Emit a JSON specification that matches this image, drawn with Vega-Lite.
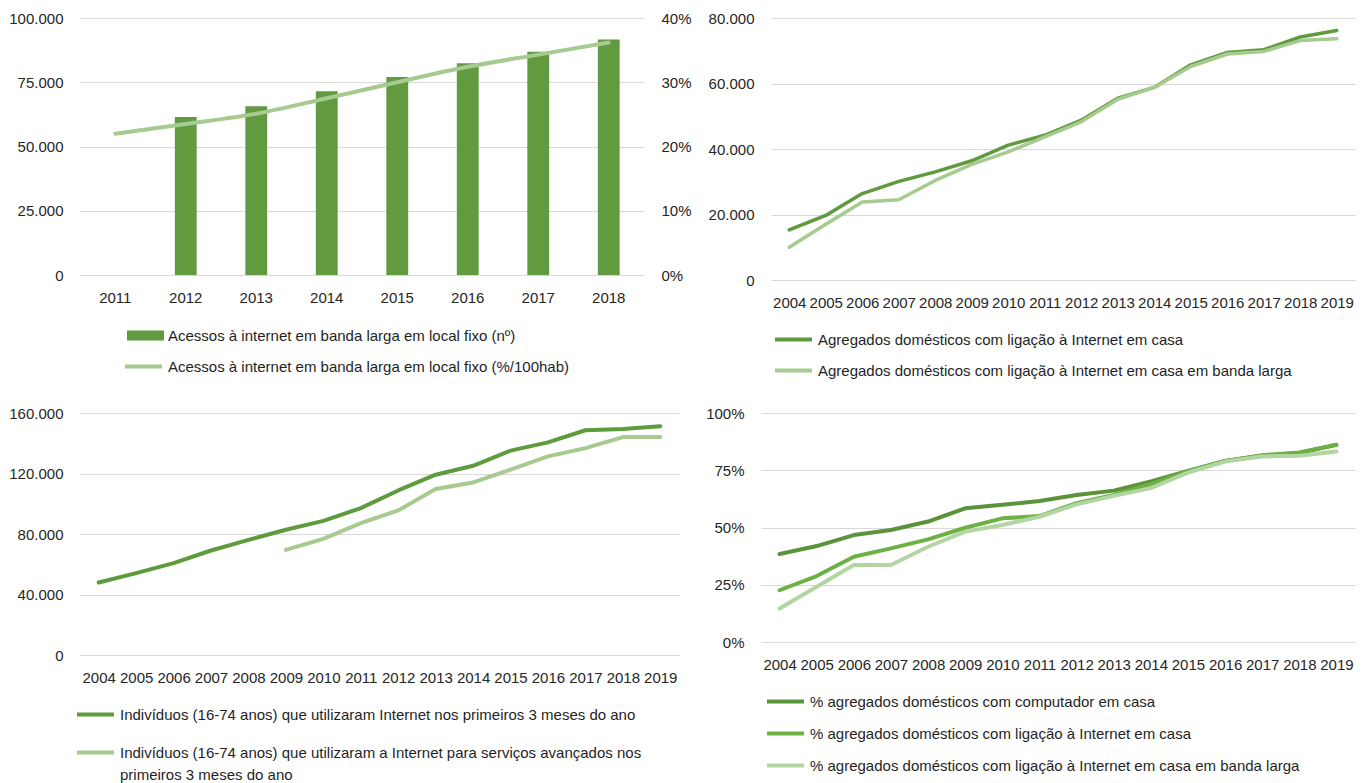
{
  "$schema": "https://vega.github.io/schema/vega-lite/v6.json",
  "autosize": {"type": "pad"},
  "padding": {"left": 8, "top": 11, "right": 5, "bottom": 5},
  "background": "white",
  "datasets": {
    "p1": [
      {"ano": "2012", "serie": "Acessos à internet em banda larga em local fixo (nº)", "valor": 61500},
      {"ano": "2013", "serie": "Acessos à internet em banda larga em local fixo (nº)", "valor": 65700},
      {"ano": "2014", "serie": "Acessos à internet em banda larga em local fixo (nº)", "valor": 71500},
      {"ano": "2015", "serie": "Acessos à internet em banda larga em local fixo (nº)", "valor": 77000},
      {"ano": "2016", "serie": "Acessos à internet em banda larga em local fixo (nº)", "valor": 82400},
      {"ano": "2017", "serie": "Acessos à internet em banda larga em local fixo (nº)", "valor": 86900},
      {"ano": "2018", "serie": "Acessos à internet em banda larga em local fixo (nº)", "valor": 91600},
      {"ano": "2011", "serie": "Acessos à internet em banda larga em local fixo (%/100hab)", "valor": 0.220},
      {"ano": "2012", "serie": "Acessos à internet em banda larga em local fixo (%/100hab)", "valor": 0.235},
      {"ano": "2013", "serie": "Acessos à internet em banda larga em local fixo (%/100hab)", "valor": 0.251},
      {"ano": "2014", "serie": "Acessos à internet em banda larga em local fixo (%/100hab)", "valor": 0.275},
      {"ano": "2015", "serie": "Acessos à internet em banda larga em local fixo (%/100hab)", "valor": 0.300},
      {"ano": "2016", "serie": "Acessos à internet em banda larga em local fixo (%/100hab)", "valor": 0.324},
      {"ano": "2017", "serie": "Acessos à internet em banda larga em local fixo (%/100hab)", "valor": 0.343},
      {"ano": "2018", "serie": "Acessos à internet em banda larga em local fixo (%/100hab)", "valor": 0.362}
    ],
    "p2": [
      {"ano": "2004", "serie": "Agregados domésticos com ligação à Internet em casa", "valor": 15300},
      {"ano": "2005", "serie": "Agregados domésticos com ligação à Internet em casa", "valor": 19700},
      {"ano": "2006", "serie": "Agregados domésticos com ligação à Internet em casa", "valor": 26400},
      {"ano": "2007", "serie": "Agregados domésticos com ligação à Internet em casa", "valor": 30100},
      {"ano": "2008", "serie": "Agregados domésticos com ligação à Internet em casa", "valor": 33000},
      {"ano": "2009", "serie": "Agregados domésticos com ligação à Internet em casa", "valor": 36400},
      {"ano": "2010", "serie": "Agregados domésticos com ligação à Internet em casa", "valor": 41200},
      {"ano": "2011", "serie": "Agregados domésticos com ligação à Internet em casa", "valor": 44200},
      {"ano": "2012", "serie": "Agregados domésticos com ligação à Internet em casa", "valor": 48800},
      {"ano": "2013", "serie": "Agregados domésticos com ligação à Internet em casa", "valor": 55500},
      {"ano": "2014", "serie": "Agregados domésticos com ligação à Internet em casa", "valor": 58800},
      {"ano": "2015", "serie": "Agregados domésticos com ligação à Internet em casa", "valor": 65700},
      {"ano": "2016", "serie": "Agregados domésticos com ligação à Internet em casa", "valor": 69500},
      {"ano": "2017", "serie": "Agregados domésticos com ligação à Internet em casa", "valor": 70300},
      {"ano": "2018", "serie": "Agregados domésticos com ligação à Internet em casa", "valor": 74200},
      {"ano": "2019", "serie": "Agregados domésticos com ligação à Internet em casa", "valor": 76200},
      {"ano": "2004", "serie": "Agregados domésticos com ligação à Internet em casa em banda larga", "valor": 10000},
      {"ano": "2005", "serie": "Agregados domésticos com ligação à Internet em casa em banda larga", "valor": 17000},
      {"ano": "2006", "serie": "Agregados domésticos com ligação à Internet em casa em banda larga", "valor": 23800},
      {"ano": "2007", "serie": "Agregados domésticos com ligação à Internet em casa em banda larga", "valor": 24500},
      {"ano": "2008", "serie": "Agregados domésticos com ligação à Internet em casa em banda larga", "valor": 30400},
      {"ano": "2009", "serie": "Agregados domésticos com ligação à Internet em casa em banda larga", "valor": 35300},
      {"ano": "2010", "serie": "Agregados domésticos com ligação à Internet em casa em banda larga", "valor": 39100},
      {"ano": "2011", "serie": "Agregados domésticos com ligação à Internet em casa em banda larga", "valor": 43700},
      {"ano": "2012", "serie": "Agregados domésticos com ligação à Internet em casa em banda larga", "valor": 48300},
      {"ano": "2013", "serie": "Agregados domésticos com ligação à Internet em casa em banda larga", "valor": 55200},
      {"ano": "2014", "serie": "Agregados domésticos com ligação à Internet em casa em banda larga", "valor": 58800},
      {"ano": "2015", "serie": "Agregados domésticos com ligação à Internet em casa em banda larga", "valor": 65200},
      {"ano": "2016", "serie": "Agregados domésticos com ligação à Internet em casa em banda larga", "valor": 69000},
      {"ano": "2017", "serie": "Agregados domésticos com ligação à Internet em casa em banda larga", "valor": 69800},
      {"ano": "2018", "serie": "Agregados domésticos com ligação à Internet em casa em banda larga", "valor": 73100},
      {"ano": "2019", "serie": "Agregados domésticos com ligação à Internet em casa em banda larga", "valor": 73700}
    ],
    "p3": [
      {"ano": "2004", "serie": "Indivíduos (16-74 anos) que utilizaram Internet nos primeiros 3 meses do ano", "valor": 47900},
      {"ano": "2005", "serie": "Indivíduos (16-74 anos) que utilizaram Internet nos primeiros 3 meses do ano", "valor": 54100},
      {"ano": "2006", "serie": "Indivíduos (16-74 anos) que utilizaram Internet nos primeiros 3 meses do ano", "valor": 60700},
      {"ano": "2007", "serie": "Indivíduos (16-74 anos) que utilizaram Internet nos primeiros 3 meses do ano", "valor": 69100},
      {"ano": "2008", "serie": "Indivíduos (16-74 anos) que utilizaram Internet nos primeiros 3 meses do ano", "valor": 76100},
      {"ano": "2009", "serie": "Indivíduos (16-74 anos) que utilizaram Internet nos primeiros 3 meses do ano", "valor": 82800},
      {"ano": "2010", "serie": "Indivíduos (16-74 anos) que utilizaram Internet nos primeiros 3 meses do ano", "valor": 88700},
      {"ano": "2011", "serie": "Indivíduos (16-74 anos) que utilizaram Internet nos primeiros 3 meses do ano", "valor": 97100},
      {"ano": "2012", "serie": "Indivíduos (16-74 anos) que utilizaram Internet nos primeiros 3 meses do ano", "valor": 108800},
      {"ano": "2013", "serie": "Indivíduos (16-74 anos) que utilizaram Internet nos primeiros 3 meses do ano", "valor": 119200},
      {"ano": "2014", "serie": "Indivíduos (16-74 anos) que utilizaram Internet nos primeiros 3 meses do ano", "valor": 125100},
      {"ano": "2015", "serie": "Indivíduos (16-74 anos) que utilizaram Internet nos primeiros 3 meses do ano", "valor": 135100},
      {"ano": "2016", "serie": "Indivíduos (16-74 anos) que utilizaram Internet nos primeiros 3 meses do ano", "valor": 140600},
      {"ano": "2017", "serie": "Indivíduos (16-74 anos) que utilizaram Internet nos primeiros 3 meses do ano", "valor": 148600},
      {"ano": "2018", "serie": "Indivíduos (16-74 anos) que utilizaram Internet nos primeiros 3 meses do ano", "valor": 149400},
      {"ano": "2019", "serie": "Indivíduos (16-74 anos) que utilizaram Internet nos primeiros 3 meses do ano", "valor": 151200},
      {"ano": "2009", "serie": "Indivíduos (16-74 anos) que utilizaram a Internet para serviços avançados nos primeiros 3 meses do ano", "valor": 69500},
      {"ano": "2010", "serie": "Indivíduos (16-74 anos) que utilizaram a Internet para serviços avançados nos primeiros 3 meses do ano", "valor": 76800},
      {"ano": "2011", "serie": "Indivíduos (16-74 anos) que utilizaram a Internet para serviços avançados nos primeiros 3 meses do ano", "valor": 87200},
      {"ano": "2012", "serie": "Indivíduos (16-74 anos) que utilizaram a Internet para serviços avançados nos primeiros 3 meses do ano", "valor": 95600},
      {"ano": "2013", "serie": "Indivíduos (16-74 anos) que utilizaram a Internet para serviços avançados nos primeiros 3 meses do ano", "valor": 109700},
      {"ano": "2014", "serie": "Indivíduos (16-74 anos) que utilizaram a Internet para serviços avançados nos primeiros 3 meses do ano", "valor": 114100},
      {"ano": "2015", "serie": "Indivíduos (16-74 anos) que utilizaram a Internet para serviços avançados nos primeiros 3 meses do ano", "valor": 122500},
      {"ano": "2016", "serie": "Indivíduos (16-74 anos) que utilizaram a Internet para serviços avançados nos primeiros 3 meses do ano", "valor": 131300},
      {"ano": "2017", "serie": "Indivíduos (16-74 anos) que utilizaram a Internet para serviços avançados nos primeiros 3 meses do ano", "valor": 136800},
      {"ano": "2018", "serie": "Indivíduos (16-74 anos) que utilizaram a Internet para serviços avançados nos primeiros 3 meses do ano", "valor": 144100},
      {"ano": "2019", "serie": "Indivíduos (16-74 anos) que utilizaram a Internet para serviços avançados nos primeiros 3 meses do ano", "valor": 144100}
    ],
    "p4": [
      {"ano": "2004", "serie": "% agregados domésticos com computador em casa", "valor": 0.384},
      {"ano": "2005", "serie": "% agregados domésticos com computador em casa", "valor": 0.419},
      {"ano": "2006", "serie": "% agregados domésticos com computador em casa", "valor": 0.467},
      {"ano": "2007", "serie": "% agregados domésticos com computador em casa", "valor": 0.489},
      {"ano": "2008", "serie": "% agregados domésticos com computador em casa", "valor": 0.526},
      {"ano": "2009", "serie": "% agregados domésticos com computador em casa", "valor": 0.584},
      {"ano": "2010", "serie": "% agregados domésticos com computador em casa", "valor": 0.599},
      {"ano": "2011", "serie": "% agregados domésticos com computador em casa", "valor": 0.616},
      {"ano": "2012", "serie": "% agregados domésticos com computador em casa", "valor": 0.642},
      {"ano": "2013", "serie": "% agregados domésticos com computador em casa", "valor": 0.661},
      {"ano": "2014", "serie": "% agregados domésticos com computador em casa", "valor": 0.701},
      {"ano": "2015", "serie": "% agregados domésticos com computador em casa", "valor": 0.747},
      {"ano": "2016", "serie": "% agregados domésticos com computador em casa", "valor": 0.791},
      {"ano": "2017", "serie": "% agregados domésticos com computador em casa", "valor": 0.815},
      {"ano": "2018", "serie": "% agregados domésticos com computador em casa", "valor": 0.825},
      {"ano": "2019", "serie": "% agregados domésticos com computador em casa", "valor": 0.861},
      {"ano": "2004", "serie": "% agregados domésticos com ligação à Internet em casa", "valor": 0.226},
      {"ano": "2005", "serie": "% agregados domésticos com ligação à Internet em casa", "valor": 0.288},
      {"ano": "2006", "serie": "% agregados domésticos com ligação à Internet em casa", "valor": 0.372},
      {"ano": "2007", "serie": "% agregados domésticos com ligação à Internet em casa", "valor": 0.409},
      {"ano": "2008", "serie": "% agregados domésticos com ligação à Internet em casa", "valor": 0.448},
      {"ano": "2009", "serie": "% agregados domésticos com ligação à Internet em casa", "valor": 0.499},
      {"ano": "2010", "serie": "% agregados domésticos com ligação à Internet em casa", "valor": 0.540},
      {"ano": "2011", "serie": "% agregados domésticos com ligação à Internet em casa", "valor": 0.550},
      {"ano": "2012", "serie": "% agregados domésticos com ligação à Internet em casa", "valor": 0.606},
      {"ano": "2013", "serie": "% agregados domésticos com ligação à Internet em casa", "valor": 0.642},
      {"ano": "2014", "serie": "% agregados domésticos com ligação à Internet em casa", "valor": 0.689},
      {"ano": "2015", "serie": "% agregados domésticos com ligação à Internet em casa", "valor": 0.745},
      {"ano": "2016", "serie": "% agregados domésticos com ligação à Internet em casa", "valor": 0.791},
      {"ano": "2017", "serie": "% agregados domésticos com ligação à Internet em casa", "valor": 0.815},
      {"ano": "2018", "serie": "% agregados domésticos com ligação à Internet em casa", "valor": 0.828},
      {"ano": "2019", "serie": "% agregados domésticos com ligação à Internet em casa", "valor": 0.861},
      {"ano": "2004", "serie": "% agregados domésticos com ligação à Internet em casa em banda larga", "valor": 0.146},
      {"ano": "2005", "serie": "% agregados domésticos com ligação à Internet em casa em banda larga", "valor": 0.241},
      {"ano": "2006", "serie": "% agregados domésticos com ligação à Internet em casa em banda larga", "valor": 0.336},
      {"ano": "2007", "serie": "% agregados domésticos com ligação à Internet em casa em banda larga", "valor": 0.336},
      {"ano": "2008", "serie": "% agregados domésticos com ligação à Internet em casa em banda larga", "valor": 0.416},
      {"ano": "2009", "serie": "% agregados domésticos com ligação à Internet em casa em banda larga", "valor": 0.482},
      {"ano": "2010", "serie": "% agregados domésticos com ligação à Internet em casa em banda larga", "valor": 0.511},
      {"ano": "2011", "serie": "% agregados domésticos com ligação à Internet em casa em banda larga", "valor": 0.547},
      {"ano": "2012", "serie": "% agregados domésticos com ligação à Internet em casa em banda larga", "valor": 0.601},
      {"ano": "2013", "serie": "% agregados domésticos com ligação à Internet em casa em banda larga", "valor": 0.638},
      {"ano": "2014", "serie": "% agregados domésticos com ligação à Internet em casa em banda larga", "valor": 0.672},
      {"ano": "2015", "serie": "% agregados domésticos com ligação à Internet em casa em banda larga", "valor": 0.740},
      {"ano": "2016", "serie": "% agregados domésticos com ligação à Internet em casa em banda larga", "valor": 0.788},
      {"ano": "2017", "serie": "% agregados domésticos com ligação à Internet em casa em banda larga", "valor": 0.810},
      {"ano": "2018", "serie": "% agregados domésticos com ligação à Internet em casa em banda larga", "valor": 0.813},
      {"ano": "2019", "serie": "% agregados domésticos com ligação à Internet em casa em banda larga", "valor": 0.832}
    ]
  },
  "vconcat": [
    {
      "hconcat": [
        {
          "width": 564,
          "height": 257,
          "data": {"name": "p1"},
          "layer": [
            {
              "transform": [{"filter": {"field": "serie", "equal": "Acessos à internet em banda larga em local fixo (nº)"}}],
              "mark": {"type": "bar"},
              "encoding": {
                "x": {"field": "ano", "type": "ordinal", "title": null, "scale": {"paddingInner": 0.69, "paddingOuter": 0.345}},
                "y": {"field": "valor", "type": "quantitative", "title": null, "scale": {"domain": [0, 100000], "nice": false}, "axis": {"values": [0, 25000, 50000, 75000, 100000], "format": ",d", "grid": true}},
                "fill": {"field": "serie", "type": "nominal", "scale": {"range": ["#629B3F"]}, "legend": {"title": null, "orient": "none", "legendX": 47, "legendY": 299, "symbolType": "M-1,-0.27H1V0.27H-1Z", "symbolSize": 1369, "symbolStrokeWidth": 0}}
              }
            },
            {
              "transform": [{"filter": {"field": "serie", "equal": "Acessos à internet em banda larga em local fixo (%/100hab)"}}],
              "mark": {"type": "line", "interpolate": "monotone", "strokeWidth": 4, "strokeCap": "round"},
              "encoding": {
                "x": {"field": "ano", "type": "ordinal", "title": null},
                "y": {"field": "valor", "type": "quantitative", "title": null, "scale": {"domain": [0, 0.4], "nice": false}, "axis": {"orient": "right", "values": [0, 0.1, 0.2, 0.3, 0.4], "format": ".0%", "grid": false}},
                "stroke": {"field": "serie", "type": "nominal", "scale": {"range": ["#A6CA8F"]}, "legend": {"title": null, "orient": "none", "legendX": 43, "legendY": 328, "symbolType": "stroke", "symbolSize": 1369, "symbolStrokeWidth": 4}}
              }
            }
          ],
          "resolve": {"scale": {"y": "independent"}}
        },
        {
          "width": 584,
          "height": 262,
          "data": {"name": "p2"},
          "mark": {"type": "line", "strokeWidth": 3.5, "strokeCap": "round", "strokeJoin": "round"},
          "encoding": {
            "x": {"field": "ano", "type": "ordinal", "title": null},
            "y": {"field": "valor", "type": "quantitative", "title": null, "scale": {"domain": [0, 80000], "nice": false}, "axis": {"values": [0, 20000, 40000, 60000, 80000], "format": ",d", "grid": true}},
            "stroke": {"field": "serie", "type": "nominal", "scale": {"domain": ["Agregados domésticos com ligação à Internet em casa", "Agregados domésticos com ligação à Internet em casa em banda larga"], "range": ["#5E9B3C", "#A6CA8F"]}, "legend": {"title": null, "orient": "none", "legendX": 2, "legendY": 301, "symbolType": "stroke", "symbolSize": 1369, "symbolStrokeWidth": 4, "rowPadding": 2}}
          }
        }
      ],
      "spacing": 127,
      "bounds": "flush",
      "resolve": {"scale": {"stroke": "independent", "fill": "independent"}}
    },
    {
      "hconcat": [
        {
          "width": 599,
          "height": 242,
          "data": {"name": "p3"},
          "mark": {"type": "line", "strokeWidth": 4, "strokeCap": "round", "strokeJoin": "round"},
          "encoding": {
            "x": {"field": "ano", "type": "ordinal", "title": null},
            "y": {"field": "valor", "type": "quantitative", "title": null, "scale": {"domain": [0, 160000], "nice": false}, "axis": {"values": [0, 40000, 80000, 120000, 160000], "format": ",d", "grid": true}},
            "stroke": {"field": "serie", "type": "nominal", "scale": {"domain": ["Indivíduos (16-74 anos) que utilizaram Internet nos primeiros 3 meses do ano", "Indivíduos (16-74 anos) que utilizaram a Internet para serviços avançados nos primeiros 3 meses do ano"], "range": ["#5E9B3C", "#A6CA8F"]}, "legend": {"title": null, "orient": "none", "legendX": -5, "legendY": 281, "symbolType": "stroke", "symbolSize": 1369, "symbolStrokeWidth": 4, "rowPadding": 9, "labelExpr": "indexof(datum.label, 'avançados') > 0 ? ['Indivíduos (16-74 anos) que utilizaram a Internet para serviços avançados nos', 'primeiros 3 meses do ano'] : datum.label", "encode": {"labels": {"update": {"lineHeight": {"value": 22}}}}}}
          }
        },
        {
          "width": 594,
          "height": 229,
          "data": {"name": "p4"},
          "mark": {"type": "line", "strokeWidth": 4, "strokeCap": "round", "strokeJoin": "round"},
          "encoding": {
            "x": {"field": "ano", "type": "ordinal", "title": null},
            "y": {"field": "valor", "type": "quantitative", "title": null, "scale": {"domain": [0, 1], "nice": false}, "axis": {"values": [0, 0.25, 0.5, 0.75, 1], "format": ".0%", "grid": true}},
            "stroke": {"field": "serie", "type": "nominal", "scale": {"domain": ["% agregados domésticos com computador em casa", "% agregados domésticos com ligação à Internet em casa", "% agregados domésticos com ligação à Internet em casa em banda larga"], "range": ["#5A9339", "#6DB043", "#B2D5A3"]}, "legend": {"title": null, "orient": "none", "legendX": 4, "legendY": 268, "symbolType": "stroke", "symbolSize": 1369, "symbolStrokeWidth": 4, "rowPadding": 3}}
          }
        }
      ],
      "spacing": 82,
      "bounds": "flush",
      "resolve": {"scale": {"stroke": "independent", "fill": "independent"}}
    }
  ],
  "spacing": 395,
  "bounds": "flush",
  "resolve": {"scale": {"stroke": "independent", "fill": "independent"}},
  "config": {
    "locale": {"number": {"decimal": ",", "thousands": ".", "grouping": [3], "currency": ["", " €"]}},
    "view": {"stroke": null},
    "font": "Liberation Sans",
    "axis": {"labelFont": "Liberation Sans", "labelFontSize": 15, "labelColor": "#262626", "domain": false, "ticks": false, "gridColor": "#D9D9D9", "gridWidth": 1, "labelOverlap": false},
    "axisX": {"labelAngle": 0, "labelPadding": 15, "grid": false},
    "axisY": {"labelPadding": 17},
    "legend": {"labelFont": "Liberation Sans", "labelFontSize": 15, "labelColor": "#1F1F1F", "labelLimit": 0, "padding": 0, "labelOffset": 4, "symbolOffset": 0, "direction": "vertical"}
  }
}
